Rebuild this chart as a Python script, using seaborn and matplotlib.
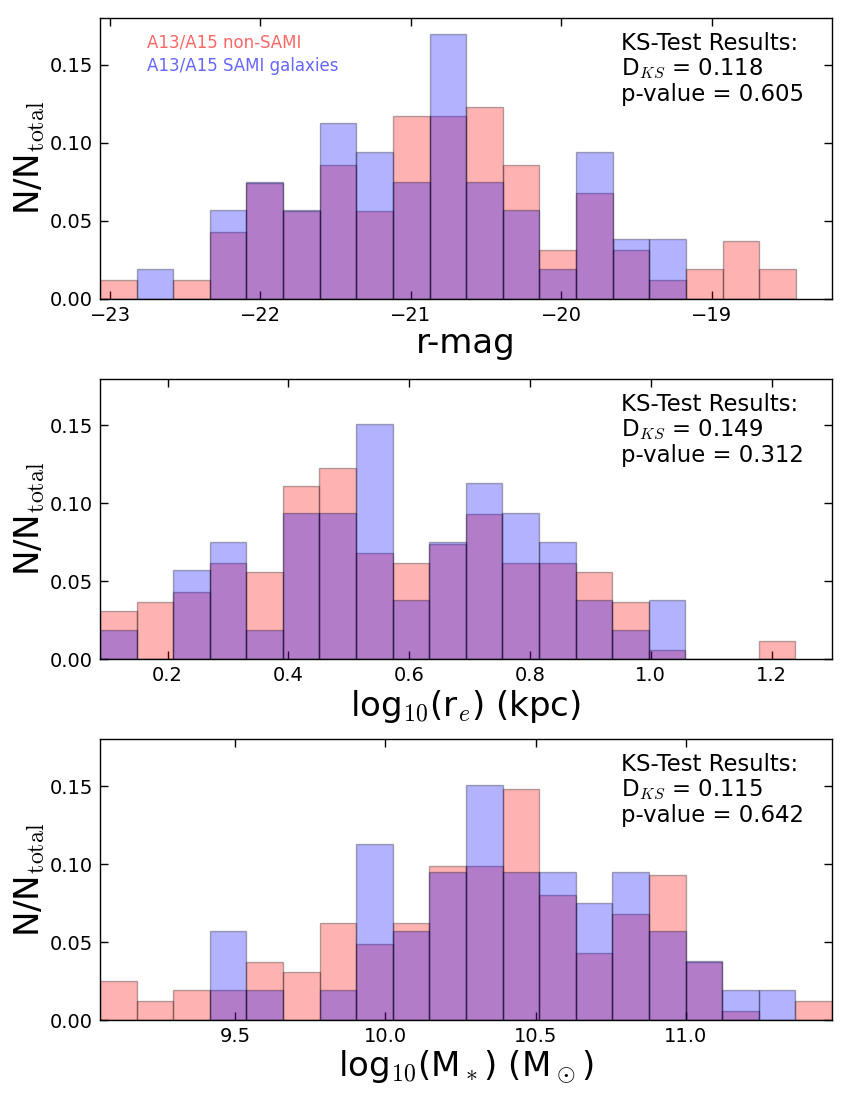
import numpy as np
import pandas as pd
import seaborn as sns
import matplotlib
matplotlib.use("Agg")
import matplotlib.pyplot as plt

# normalised histogram heights (N/N_total)
rmag_non = [0.012, 0.0, 0.012, 0.043, 0.074, 0.056, 0.086, 0.056, 0.117, 0.117,
            0.123, 0.086, 0.031, 0.068, 0.031, 0.012, 0.019, 0.037, 0.019]
rmag_sami = [0.0, 0.019, 0.0, 0.057, 0.075, 0.057, 0.113, 0.094, 0.075, 0.170,
             0.075, 0.057, 0.019, 0.094, 0.038, 0.038, 0.0, 0.0, 0.0]

re_non = [0.031, 0.037, 0.043, 0.062, 0.056, 0.111, 0.123, 0.068, 0.062, 0.074,
          0.093, 0.062, 0.062, 0.056, 0.037, 0.006, 0.0, 0.0, 0.012]
re_sami = [0.019, 0.0, 0.057, 0.075, 0.019, 0.094, 0.094, 0.151, 0.038, 0.075,
           0.113, 0.094, 0.075, 0.038, 0.019, 0.038, 0.0, 0.0, 0.0]

mass_non = [0.025, 0.012, 0.019, 0.019, 0.037, 0.031, 0.062, 0.049, 0.062, 0.099,
            0.099, 0.148, 0.080, 0.043, 0.068, 0.093, 0.037, 0.006, 0.0, 0.012]
mass_sami = [0.0, 0.0, 0.0, 0.057, 0.019, 0.0, 0.019, 0.113, 0.057, 0.095,
             0.151, 0.095, 0.095, 0.075, 0.095, 0.057, 0.038, 0.019, 0.019, 0.0]

# bin ranges (min, max) of each quantity
rmag_range = (-23.067, -18.44)
re_range = (0.088, 1.239)
mass_range = (9.050, 11.486)

ks_d = ["0.118", "0.149", "0.115"]
ks_p = ["0.605", "0.312", "0.642"]

sns.set_theme(style="ticks", rc={
    "xtick.direction": "in", "ytick.direction": "in",
    "xtick.top": True, "ytick.right": True,
    "xtick.major.size": 6, "ytick.major.size": 6,
    "xtick.major.width": 1.0, "ytick.major.width": 1.0,
    "axes.linewidth": 1.0, "axes.edgecolor": "black",
    "xtick.color": "black", "ytick.color": "black",
    "text.color": "black", "axes.labelcolor": "black",
    "mathtext.fontset": "cm",
})
plt.rcParams["font.family"] = ["DejaVu Sans"]

panels = [
    (rmag_non, rmag_sami, rmag_range, (-23.067, -18.2), "r-mag"),
    (re_non, re_sami, re_range, (0.088, 1.3), r"log$_{10}$(r$_e$) (kpc)"),
    (mass_non, mass_sami, mass_range, (9.050, 11.486), r"log$_{10}$(M$_*$) (M$_\odot$)"),
]

fig, axes = plt.subplots(3, 1, figsize=(8.5, 11), dpi=100)
plt.subplots_adjust(left=0.1176, right=0.9788, top=0.9836, bottom=0.0727, hspace=0.285)

for i, (ax, (non, sami, rng, xlim, xlabel)) in enumerate(zip(axes, panels)):
    edges = np.linspace(rng[0], rng[1], len(non) + 1)
    centers = 0.5 * (edges[:-1] + edges[1:])
    df = pd.DataFrame({"x": centers, "non": non, "sami": sami})
    sns.histplot(data=df, x="x", weights="non", bins=list(edges), ax=ax,
                 facecolor=(1, 0, 0, 0.3), edgecolor=(0, 0, 0, 0.3), linewidth=1)
    sns.histplot(data=df, x="x", weights="sami", bins=list(edges), ax=ax,
                 facecolor=(0, 0, 1, 0.3), edgecolor=(0, 0, 0, 0.3), linewidth=1)
    ax.set_xlim(*xlim)
    ax.set_ylim(0, 0.18)
    ax.set_yticks([0.0, 0.05, 0.10, 0.15])
    ax.set_yticklabels(["0.00", "0.05", "0.10", "0.15"])
    ax.tick_params(labelsize=14, pad=5)
    ax.set_xlabel(xlabel, fontsize=24.5, labelpad=2)
    ax.set_ylabel(r"N/N$_{\rm total}$", fontsize=24.5, labelpad=2)
    ax.text(0.712, 0.95, "KS-Test Results:\nD$_{KS}$ = " + ks_d[i] + "\np-value = " + ks_p[i],
            transform=ax.transAxes, fontsize=16.4, va="top", ha="left", linespacing=1.1)
    for s in ax.spines.values():
        s.set_visible(True)

axes[0].text(0.064, 0.945, "A13/A15 non-SAMI", color="#ff6666", fontsize=12,
             transform=axes[0].transAxes, va="top")
axes[0].text(0.064, 0.862, "A13/A15 SAMI galaxies", color="#6666ff", fontsize=12,
             transform=axes[0].transAxes, va="top")

plt.savefig("out.png", dpi=100)
